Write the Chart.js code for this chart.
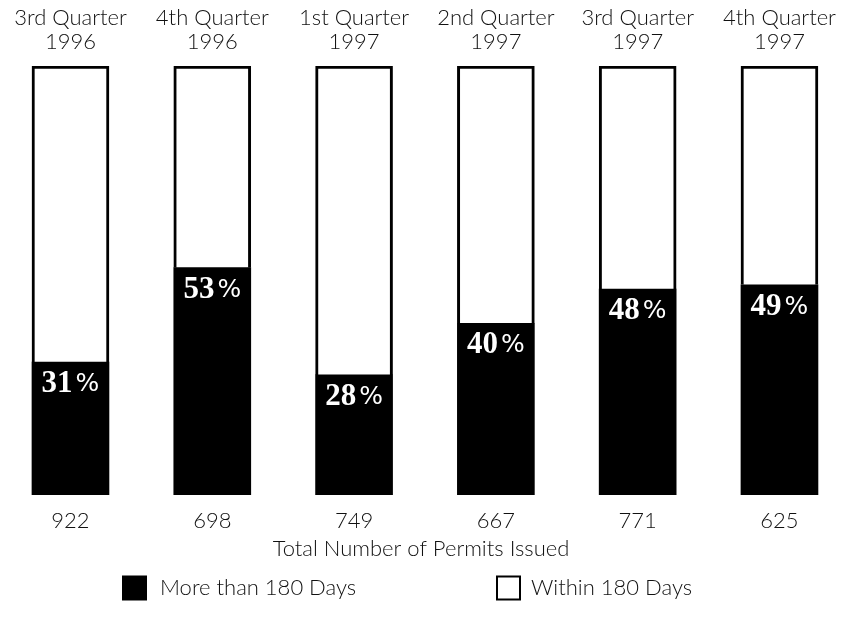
<!DOCTYPE html>
<html lang="en">
<head>
<meta charset="utf-8">
<title>Permits issued by quarter</title>
<style>
    html, body { margin: 0; padding: 0; background: #fff; overflow: hidden; }
    canvas { display: block; }
</style>
</head>
<body>
<canvas id="permitChart" width="842" height="623"></canvas>
<script src="https://cdn.jsdelivr.net/npm/chart.js"></script>
<script>
    // values
    const quarters = [
        ['3rd Quarter', '1996'],
        ['4th Quarter', '1996'],
        ['1st Quarter', '1997'],
        ['2nd Quarter', '1997'],
        ['3rd Quarter', '1997'],
        ['4th Quarter', '1997']
    ];
    const moreThan180 = [31, 53, 28, 40, 48, 49];   // % of permits, black part
    const within180 = [69, 47, 72, 60, 52, 51];     // % of permits, white part
    const permitTotals = [922, 698, 749, 667, 771, 625];

    const seriesNames = ['More than 180 Days', 'Within 180 Days'];

    const sansFont = 'Lato, "Open Sans", sans-serif';
    const ink = '#111';

    // x range so the six bars sit where they do in the original
    const xMin = -0.497;
    const xMax = 5.441;

    function fixedTicks(scale) {
        scale.ticks = quarters.map((q, i) => ({ value: i }));
    }

    // percent labels inside the black part + the legend under the chart
    const extraText = {
        id: 'extraText',
        afterDatasetsDraw(chart) {
            const ctx = chart.ctx;
            const meta = chart.getDatasetMeta(0);
            const numFont = 'bold 31px "Liberation Serif", serif';
            const pctFont = '25px "DejaVu Sans", sans-serif';
            ctx.save();
            ctx.fillStyle = '#fff';
            ctx.textBaseline = 'alphabetic';
            ctx.textAlign = 'left';
            meta.data.forEach((bar, i) => {
                const num = String(moreThan180[i]);
                ctx.font = numFont;
                const wNum = ctx.measureText(num).width;
                ctx.font = pctFont;
                const wPct = ctx.measureText('%').width;
                const gap = 3;
                const x = bar.x - (wNum + gap + wPct) / 2;
                const y = bar.y + 30;
                ctx.font = numFont;
                ctx.fillText(num, x, y);
                ctx.font = pctFont;
                ctx.fillText('%', x + wNum + gap, y - 1);
            });
            ctx.restore();
        },
        afterDraw(chart) {
            const ctx = chart.ctx;
            const y = 588;
            const box = 25;
            ctx.save();
            ctx.font = '300 22px ' + sansFont;
            ctx.textBaseline = 'middle';
            ctx.textAlign = 'left';

            // black box
            ctx.fillStyle = '#000';
            ctx.fillRect(122, y - box / 2, box, box);
            ctx.fillStyle = ink;
            ctx.fillText(seriesNames[0], 160, y);

            // white box
            ctx.strokeStyle = '#000';
            ctx.lineWidth = 2;
            ctx.strokeRect(497, y - box / 2 + 1, box - 2, box - 2);
            ctx.fillText(seriesNames[1], 531, y);
            ctx.restore();
        }
    };

    const chart = new Chart(document.getElementById('permitChart'), {
        type: 'bar',
        data: {
            datasets: [{
                label: seriesNames[0],
                data: moreThan180.map((v, i) => ({ x: i, y: v })),
                backgroundColor: '#000',
                borderWidth: 0,
                barThickness: 77
            }, {
                label: seriesNames[1],
                data: within180.map((v, i) => ({ x: i, y: v })),
                backgroundColor: '#fff',
                borderColor: '#000',
                borderWidth: { top: 3, left: 3, right: 3, bottom: 0 },
                borderSkipped: false,
                barThickness: 77
            }]
        },
        options: {
            responsive: false,
            animation: false,
            layout: { autoPadding: false, padding: { top: 0, bottom: 61, left: 0, right: 0 } },
            plugins: {
                legend: { display: false },
                tooltip: { enabled: false }
            },
            scales: {
                x: {
                    type: 'linear',
                    position: 'bottom',
                    min: xMin,
                    max: xMax,
                    offset: false,
                    stacked: true,
                    border: { display: false },
                    grid: { display: false },
                    afterBuildTicks: fixedTicks,
                    afterFit(scale) { scale.height = 67; },
                    ticks: {
                        padding: 5,
                        maxRotation: 0,
                        autoSkip: false,
                        color: ink,
                        font: { family: sansFont, size: 22, weight: '300', lineHeight: 1.2 },
                        callback: (value) => permitTotals[value]
                    },
                    title: {
                        display: true,
                        text: 'Total Number of Permits Issued',
                        color: ink,
                        padding: { top: 0, bottom: 0 },
                        font: { family: sansFont, size: 22, weight: '300', lineHeight: 1.2 }
                    }
                },
                xTop: {
                    type: 'linear',
                    position: 'top',
                    min: xMin,
                    max: xMax,
                    offset: false,
                    border: { display: false },
                    grid: { display: false },
                    afterBuildTicks: fixedTicks,
                    afterFit(scale) { scale.height = 66; },
                    ticks: {
                        padding: 4,
                        maxRotation: 0,
                        autoSkip: false,
                        color: ink,
                        font: { family: sansFont, size: 22, weight: '300', lineHeight: 1.09 },
                        callback: (value) => quarters[value]
                    }
                },
                y: {
                    display: false,
                    stacked: true,
                    min: 0,
                    max: 100
                }
            }
        },
        plugins: [extraText]
    });
</script>
</body>
</html>
